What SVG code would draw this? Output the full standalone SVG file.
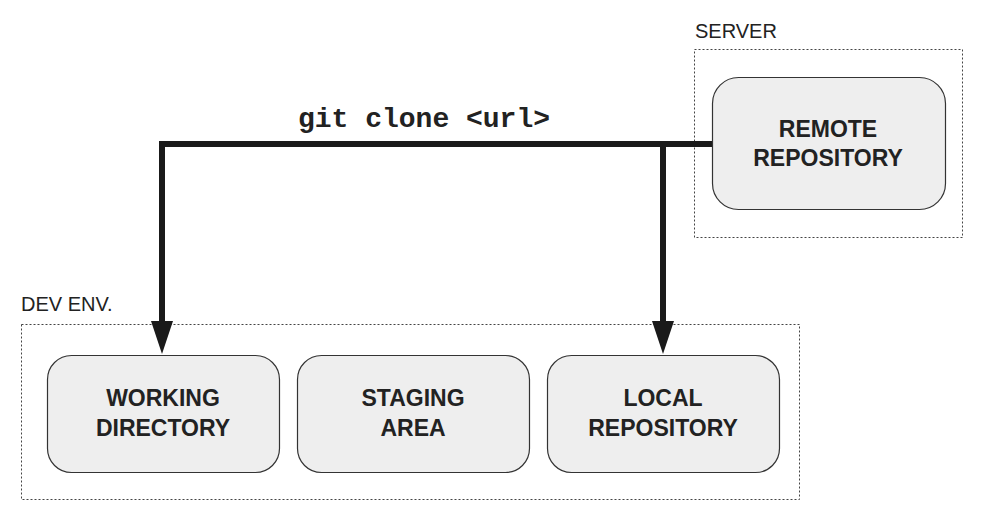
<svg xmlns="http://www.w3.org/2000/svg" width="985" height="520" viewBox="0 0 985 520">
<style>
.bg{fill:#ffffff}
.container{fill:none;stroke:#444;stroke-width:1;stroke-dasharray:2,2}
.clabel{font-family:"Liberation Sans",Arial,sans-serif;font-size:20px;fill:#222}
.box{fill:#eeeeee;stroke:#333;stroke-width:1.2}
.nlabel{font-family:"Liberation Sans",Arial,sans-serif;font-size:23px;font-weight:bold;fill:#222;text-anchor:middle}
.conn{fill:none;stroke:#1a1a1a;stroke-width:6;stroke-linejoin:miter}
.head{fill:#1a1a1a}
.cmd{font-family:"Liberation Mono","Courier New",monospace;font-size:28px;font-weight:bold;fill:#222;text-anchor:middle}
</style>
<rect class="bg" x="0" y="0" width="985" height="520"/>
<g id="server">
<rect class="container" x="694.5" y="49.5" width="268" height="188"/>
<text class="clabel" x="695" y="38">SERVER</text>
</g>
<g id="devenv">
<rect class="container" x="21.5" y="324.5" width="778" height="175"/>
<text class="clabel" x="21" y="311">DEV ENV.</text>
</g>
<g id="connectors">
<path class="conn" d="M712,144 H162 V322"/>
<path class="head" d="M151,321 L173,321 L162,354 Z"/>
<path class="conn" d="M663,144 V322"/>
<path class="head" d="M652,321 L674,321 L663,354 Z"/>
<text class="cmd" x="424" y="127">git clone &lt;url&gt;</text>
</g>
<g id="remote">
<rect class="box" x="712.5" y="77.5" width="233" height="132" rx="26"/>
<text class="nlabel" x="828" y="136.5">REMOTE</text>
<text class="nlabel" x="828" y="165.5">REPOSITORY</text>
</g>
<g id="working">
<rect class="box" x="47.5" y="355.5" width="232" height="117" rx="24"/>
<text class="nlabel" x="163" y="406">WORKING</text>
<text class="nlabel" x="163" y="436">DIRECTORY</text>
</g>
<g id="staging">
<rect class="box" x="297.5" y="355.5" width="232" height="117" rx="24"/>
<text class="nlabel" x="413" y="406">STAGING</text>
<text class="nlabel" x="413" y="436">AREA</text>
</g>
<g id="local">
<rect class="box" x="547.5" y="355.5" width="232" height="117" rx="24"/>
<text class="nlabel" x="663" y="406">LOCAL</text>
<text class="nlabel" x="663" y="436">REPOSITORY</text>
</g>
</svg>
